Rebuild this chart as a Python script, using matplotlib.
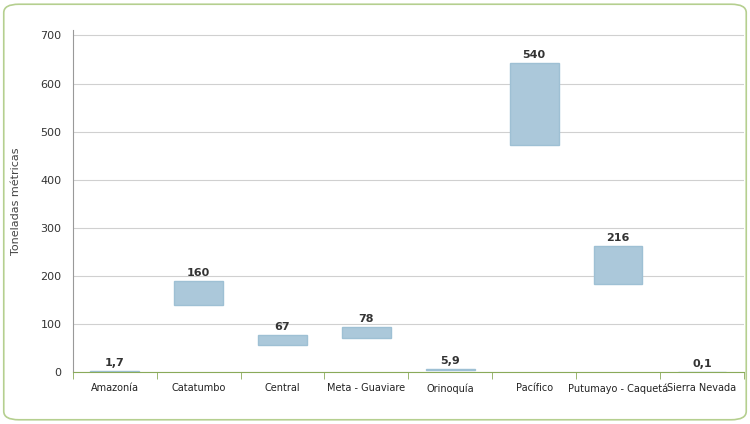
import matplotlib
matplotlib.use("Agg")
import matplotlib.pyplot as plt
from matplotlib.patches import FancyBboxPatch

categories = ["Amazonía", "Catatumbo", "Central", "Meta - Guaviare", "Orinoquía",
              "Pacífico", "Putumayo - Caquetá", "Sierra Nevada"]
lows = [0.3, 140, 56, 71, 4, 473, 183, 0.0]
highs = [3.2, 190, 77, 94, 7.5, 642, 262, 0.4]
labels = ["1,7", "160", "67", "78", "5,9", "540", "216", "0,1"]
yticks = [0, 100, 200, 300, 400, 500, 600, 700]

fig = plt.figure(figsize=(7.5, 4.24), dpi=100)
border = FancyBboxPatch((0.005, 0.01), 0.99, 0.98, boxstyle="round,pad=0,rounding_size=0.02",
                        transform=fig.transFigure, fill=False, edgecolor="#b5cf8f", linewidth=1.2)
fig.patches.append(border)
ax = fig.add_axes([0.097, 0.122, 0.895, 0.808])
x = range(len(categories))
heights = [h - l for h, l in zip(highs, lows)]
ax.bar(x, heights, bottom=lows, width=0.58, color="#abc8da", edgecolor="#9ec0d4")
for i, (h, lab) in enumerate(zip(highs, labels)):
    ax.text(i, h + 6, lab, ha="center", va="bottom", fontsize=8, fontweight="bold", color="#333333")
ax.set_ylim(0, 712)
ax.set_xlim(-0.5, len(categories) - 0.5)
ax.set_yticks(yticks)
ax.set_yticklabels([str(v) for v in yticks], fontsize=8, color="#333333")
ax.yaxis.grid(True, color="#d0d0d0", linewidth=0.8)
ax.set_axisbelow(True)
ax.set_xticks(list(x))
ax.set_xticklabels(categories, fontsize=7, color="#222222")
ax.set_xticks([i + 0.5 for i in range(-1, len(categories))], minor=True)
ax.tick_params(axis="x", which="major", length=0, pad=8)
ax.tick_params(axis="x", which="minor", length=5, color="#8aaa5a")
ax.tick_params(axis="y", length=0, pad=8)
for s in ["top", "right"]:
    ax.spines[s].set_visible(False)
ax.spines["left"].set_color("#999999")
ax.spines["bottom"].set_color("#8aaa5a")
ax.set_ylabel("Toneladas métricas", fontsize=8, color="#444444", labelpad=14)
fig.savefig("out.png", dpi=100)
